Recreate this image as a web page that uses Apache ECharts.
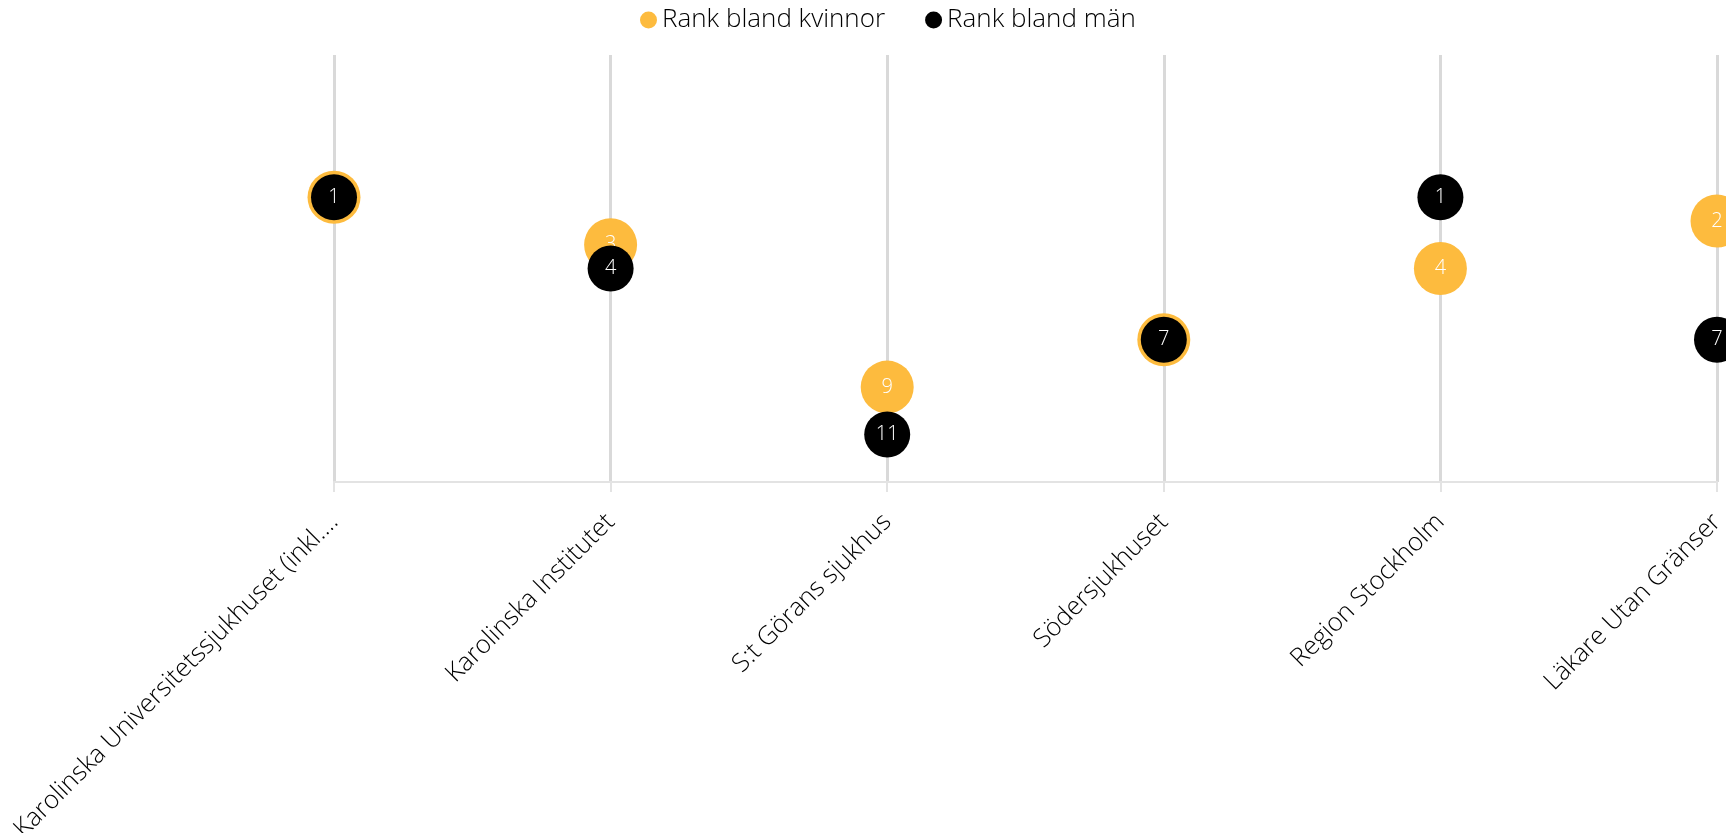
<!DOCTYPE html>
<html><head><meta charset="utf-8">
<script src="https://cdn.jsdelivr.net/npm/echarts@6/dist/echarts.min.js"></script>
<style>html,body{margin:0;padding:0;background:#fff}#c{width:1726px;height:833px}</style>
</head><body><div id="c"></div>
<script>
const categories = ["Karolinska Universitetssjukhuset (inkl.…", "Karolinska Institutet", "S:t Görans sjukhus", "Södersjukhuset", "Region Stockholm", "Läkare Utan Gränser"];
const rankWomen = [1, 3, 9, 7, 4, 2];
const rankMen = [1, 4, 11, 7, 1, 7];
const seriesNames = ["Rank bland kvinnor", "Rank bland män"];

const font = "'Open Sans', 'Segoe UI', sans-serif";
const chart = echarts.init(document.getElementById('c'), null, {renderer: 'canvas'});
chart.setOption({
  animation: false,
  textStyle: {fontFamily: font},
  legend: {
    top: 2, left: 635, itemGap: 40, itemWidth: 17, itemHeight: 17,
    icon: 'circle',
    textStyle: {fontSize: 26, color: '#000', fontWeight: 300, fontFamily: font},
    data: seriesNames
  },
  grid: {left: 334, right: 9, top: 55, bottom: 351, containLabel: false, outerBoundsMode: 'none'},
  xAxis: {
    type: 'category', data: categories, boundaryGap: false,
    axisLine: {onZero: false, lineStyle: {color: '#e3e3e3', width: 2}},
    axisTick: {show: true, length: 10, lineStyle: {color: '#e3e3e3', width: 2}},
    splitLine: {show: true, lineStyle: {color: '#d9d9d9', width: 3}},
    axisLabel: {rotate: 45, fontSize: 25.5, color: '#000', fontWeight: 300, margin: 36, fontFamily: font, interval: 0}
  },
  yAxis: {
    type: 'value', inverse: true, min: -5, max: 13, interval: 1,
    show: false, splitLine: {show: false}
  },
  series: [
    {name: seriesNames[0], type: 'scatter', data: rankWomen, symbolSize: 53,
     itemStyle: {color: '#FDBB3E', opacity: 1},
     label: {show: true, position: 'inside', color: '#fff', fontSize: 20, fontWeight: 300, fontFamily: font},
     z: 2},
    {name: seriesNames[1], type: 'scatter', data: rankMen, symbolSize: 46,
     itemStyle: {color: '#000', opacity: 1},
     label: {show: true, position: 'inside', color: '#fff', fontSize: 20, fontWeight: 300, fontFamily: font},
     z: 3}
  ]
});
</script></body></html>
